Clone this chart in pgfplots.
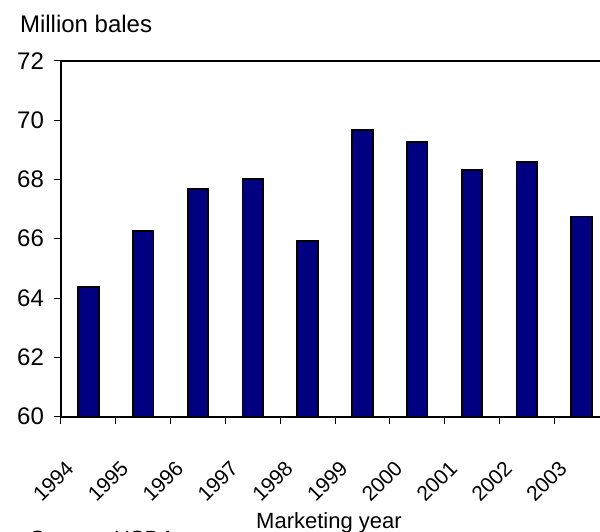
\documentclass[border=0pt]{standalone}
\usepackage{pgfplots}
\pgfplotsset{compat=1.18}
\usepackage{fontspec}
\setmainfont{Liberation Sans}
\definecolor{navybar}{HTML}{000080}
\begin{document}
\begin{tikzpicture}
\useasboundingbox (-30.5pt,-57.15pt) rectangle (269.5pt,208.35pt);
\clip (-30.5pt,-57.15pt) rectangle (269.5pt,208.35pt);
\begin{axis}[
  at={(0,0)}, anchor=south west,
  scale only axis, width=274pt, height=178pt,
  xmin=-0.5, xmax=9.5, ymin=60, ymax=72,
  ybar, bar width=10.3pt,
  xtick={-0.5,0.5,...,9.5},
  x tick label as interval,
  xticklabels={1994,1995,1996,1997,1998,1999,2000,2001,2002,2003},
  ytick={60,62,...,72},
  tick align=outside, xtick pos=bottom, ytick pos=left,
  major tick length=3.5pt,
  tick style={black, line width=0.5pt},
  axis line style={black, line width=1.1pt},
  /pgf/number format/assume math mode=true,
  yticklabel style={font=\fontsize{12}{14}\selectfont, xshift=-1.5pt},
  xticklabel style={font=\fontsize{10.5}{12}\selectfont, xshift=-6.8pt, yshift=-18pt, rotate=45, anchor=east},
  xlabel={Marketing year},
  xlabel style={font=\fontsize{11}{13}\selectfont, at={(axis description cs:0.489,-0.3154)}, anchor=base},
  ylabel={Million bales},
  ylabel style={font=\fontsize{12}{14}\selectfont, rotate=-90, at={(axis description cs:-0.0876,1.0806)}, anchor=base west},
  clip mode=individual,
]
\addplot[fill=navybar, draw=black, line width=0.9pt] coordinates {
(0,64.38) (1,66.26) (2,67.68) (3,68.00) (4,65.93)
(5,69.66) (6,69.27) (7,68.31) (8,68.58) (9,66.75)};
\node[font=\fontsize{11}{13}\selectfont, anchor=base west] at (axis description cs:-0.0693,-0.3632) {Source: USDA};
\end{axis}
\end{tikzpicture}
\end{document}
